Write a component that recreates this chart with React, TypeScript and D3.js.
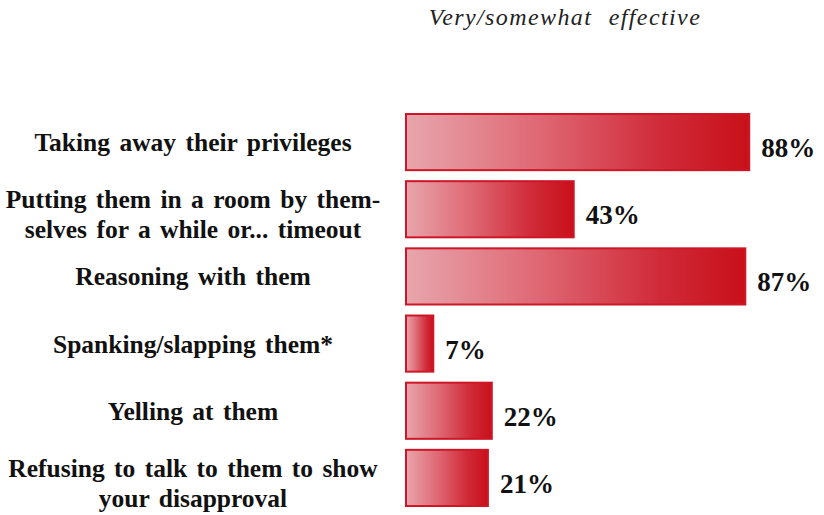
import * as d3 from 'd3'
import React, { useEffect, useRef } from 'react'

const categories = [
  'Taking away their privileges',
  'Putting them in a room by them-\nselves for a while or... timeout',
  'Reasoning with them',
  'Spanking/slapping them*',
  'Yelling at them',
  'Refusing to talk to them to show\nyour disapproval',
]
const values = [88, 43, 87, 7, 22, 21]
const title = 'Very/somewhat effective'

const width = 824
const height = 515
const serif = '"Liberation Serif", "Times New Roman", serif'

export default function App() {
  const ref = useRef<SVGSVGElement>(null)

  useEffect(() => {
    const svg = d3.select(ref.current)
    svg.selectAll('*').remove()

    const x = d3.scaleLinear().domain([0, 100]).range([406, 796])
    const y = d3.scaleBand<string>()
      .domain(categories)
      .range([108.5, 511.5])
      .paddingInner(0.164)
      .paddingOuter(0.082)

    const defs = svg.append('defs')
    const grad = defs.append('linearGradient')
      .attr('id', 'barGrad')
      .attr('x1', '0%').attr('x2', '100%')
      .attr('y1', '0%').attr('y2', '0%')
    grad.append('stop').attr('offset', '0%').attr('stop-color', '#e8a6ad')
    grad.append('stop').attr('offset', '40%').attr('stop-color', '#de6672')
    grad.append('stop').attr('offset', '75%').attr('stop-color', '#d02a38')
    grad.append('stop').attr('offset', '100%').attr('stop-color', '#c8101a')

    svg.append('text')
      .attr('x', 565)
      .attr('y', 25)
      .attr('text-anchor', 'middle')
      .style('font-family', serif)
      .style('font-style', 'italic')
      .style('font-size', '24px')
      .style('letter-spacing', '1.4px')
      .style('word-spacing', '9px')
      .style('fill', '#222')
      .text(title)

    const rows = svg.append('g')
      .selectAll('g')
      .data(categories)
      .enter().append('g')

    rows.append('rect')
      .attr('x', x(0))
      .attr('y', d => y(d)!)
      .attr('width', (d, i) => x(values[i]) - x(0))
      .attr('height', y.bandwidth())
      .style('fill', 'url(#barGrad)')
      .style('stroke', '#cf1626')
      .style('stroke-width', 2)

    rows.append('text')
      .attr('x', (d, i) => x(values[i]) + 12)
      .attr('y', d => y(d)! + y.bandwidth() / 2 + 15)
      .style('font-family', serif)
      .style('font-weight', 'bold')
      .style('font-size', '27px')
      .style('fill', '#111')
      .text((d, i) => values[i] + '%')

    const labels = rows.append('text')
      .attr('text-anchor', 'middle')
      .style('font-family', serif)
      .style('font-weight', 'bold')
      .style('font-size', '25.5px')
      .style('word-spacing', '3px')
      .style('fill', '#111')

    labels.each(function (d) {
      const lines = d.split('\n')
      const mid = y(d)! + y.bandwidth() / 2
      const lineH = 30
      d3.select(this).selectAll('tspan')
        .data(lines)
        .enter().append('tspan')
        .attr('x', 193)
        .attr('y', (l, j) => lines.length > 1 ? mid - 1 + j * lineH : mid + 9)
        .text(l => l)
    })
  }, [])

  return (
    <svg
      ref={ref}
      width={width}
      height={height}
      style={{ position: 'absolute', left: 0, top: 0, background: '#fff' }}
    />
  )
}
